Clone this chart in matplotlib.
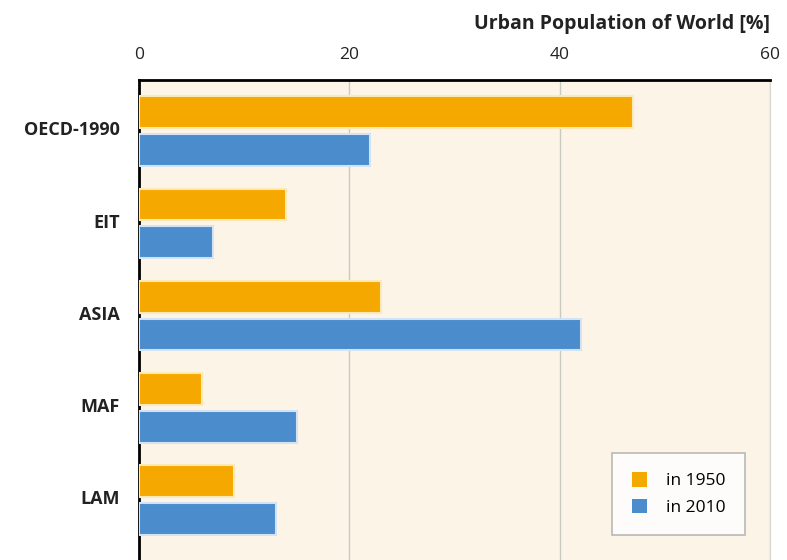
import matplotlib.pyplot as plt
import numpy as np
from matplotlib.patches import Patch

regions = ['OECD-1990', 'EIT', 'ASIA', 'MAF', 'LAM']
urban_1950 = [47, 14, 23, 6, 9]
urban_2010 = [22, 7, 42, 15, 13]

orange = '#f5a800'
blue = '#4a8ccc'
bg = '#fdf4e8'

plt.rcParams['font.family'] = ['Open Sans', 'DejaVu Sans']

fig = plt.figure(figsize=(7.87, 5.6), dpi=100)
ax = fig.add_axes([139 / 787, -20 / 560, 631 / 787, 500 / 560])
ax.set_facecolor(bg)

y = np.arange(len(regions))
ax.barh(y - 0.205, urban_1950, height=0.345, color=orange,
        edgecolor='#fde9b8', linewidth=1.5, zorder=3)
ax.barh(y + 0.205, urban_2010, height=0.345, color=blue,
        edgecolor='#d3e3f3', linewidth=1.5, zorder=3)

ax.set_xlim(0, 60)
ax.set_ylim(4.864, -0.553)
ax.set_xticks([0, 20, 40, 60])
ax.xaxis.tick_top()
ax.tick_params(axis='x', length=0, pad=12, labelsize=12.5, colors='#222222')
ax.set_yticks(y - 0.03)
ax.set_yticklabels(regions, fontweight='bold')
ax.tick_params(axis='y', length=0, pad=14, labelsize=13, colors='#222222')

ax.grid(axis='x', color='#c9c9c0', linewidth=1, zorder=0)
ax.spines['top'].set_linewidth(2)
ax.spines['left'].set_linewidth(2)
ax.spines['right'].set_color('#d8d8d0')
ax.spines['bottom'].set_visible(False)

fig.text(770 / 787, 1 - 24 / 560, 'Urban Population of World [%]',
         ha='right', va='center', fontsize=14, fontweight='bold', color='#222222')

handles = [Patch(facecolor=orange, label='in 1950'),
           Patch(facecolor=blue, label='in 2010')]
leg = fig.legend(handles=handles, loc='upper right',
                 bbox_to_anchor=(745 / 787, 1 - 453 / 560),
                 fontsize=12.5, frameon=True, fancybox=False, shadow=False,
                 handlelength=0.9, handleheight=0.9, handletextpad=1.1,
                 borderpad=1.1, labelspacing=0.55, borderaxespad=0)
leg.get_frame().set_edgecolor('#a8a8a8')
leg.get_frame().set_linewidth(1.2)
leg.get_frame().set_facecolor('white')

fig.savefig('out.png', dpi=100, facecolor='white')
